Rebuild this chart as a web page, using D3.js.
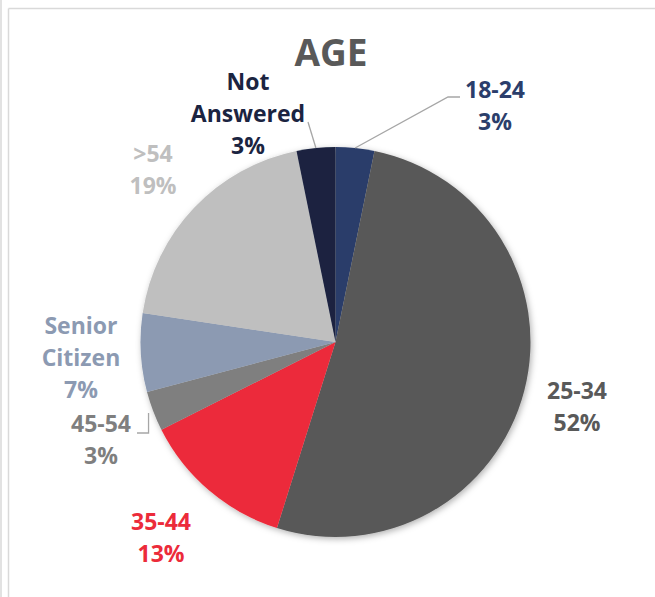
<html>
<head>
<script src="https://d3js.org/d3.v7.min.js"></script>
<style>
  body { margin: 0; background: #fff; }
  svg text { font-family: "Open Sans", "DejaVu Sans", sans-serif; font-weight: bold; }
</style>
</head>
<body>
<div id="chart"></div>
<script>
// data (share of respondents, %)
var categories = ["18-24", "25-34", "35-44", "45-54", "Senior Citizen", ">54", "Not Answered"];
var values = [3.2, 51.6, 12.7, 3.3, 6.5, 19.4, 3.2];
var colors = ["#2b3e6b", "#595959", "#ec2b3a", "#7f7f7f", "#8c9ab2", "#bfbfbf", "#1b2441"];

// label layout: centre x, first baseline, line breaks, leader line kind
var labelLayout = {
  "18-24":          { x: 495, y: 98,  lines: ["18-24"],            leader: "elbow", ex: 460 },
  "25-34":          { x: 577, y: 399, lines: ["25-34"] },
  "35-44":          { x: 161, y: 530, lines: ["35-44"] },
  "45-54":          { x: 101, y: 432, lines: ["45-54"],            leader: "bracket", ex: 137 },
  "Senior Citizen": { x: 81,  y: 334, lines: ["Senior", "Citizen"] },
  ">54":            { x: 153, y: 162, lines: [">54"] },
  "Not Answered":   { x: 248, y: 90,  lines: ["Not", "Answered"],  leader: "straight" }
};

var W = 655, H = 597;
var cx = 335.5, cy = 342, r = 195;
var lineH = 32;

var svg = d3.select("#chart").append("svg")
    .attr("width", W)
    .attr("height", H);

// frame lines
svg.append("line").attr("x1", 1).attr("y1", 0).attr("x2", 1).attr("y2", H)
    .attr("stroke", "#d9d9d9").attr("stroke-width", 1.5);
svg.append("line").attr("x1", 8.5).attr("y1", 8.5).attr("x2", 8.5).attr("y2", H)
    .attr("stroke", "#d9d9d9").attr("stroke-width", 1.5);
svg.append("line").attr("x1", 8.5).attr("y1", 8.5).attr("x2", W).attr("y2", 8.5)
    .attr("stroke", "#d9d9d9").attr("stroke-width", 1.5);

var defs = svg.append("defs");
defs.append("filter")
    .attr("id", "shadow")
    .attr("x", "-20%").attr("y", "-20%").attr("width", "140%").attr("height", "140%")
  .append("feDropShadow")
    .attr("dx", 1.5).attr("dy", 2)
    .attr("stdDeviation", 3)
    .attr("flood-color", "#000")
    .attr("flood-opacity", 0.3);

svg.append("text")
    .attr("x", 331)
    .attr("y", 66)
    .attr("text-anchor", "middle")
    .attr("font-size", 37)
    .attr("fill", "#595959")
    .text("AGE");

var data = categories.map(function(c, i) {
  return { name: c, value: values[i], color: colors[i] };
});

var pie = d3.pie()
    .sort(null)
    .value(function(d) { return d.value; });

var arc = d3.arc().innerRadius(0).outerRadius(r);
var arcs = pie(data);

var g = svg.append("g")
    .attr("transform", "translate(" + cx + "," + cy + ")");

g.append("g")
    .attr("filter", "url(#shadow)")
  .selectAll("path")
  .data(arcs)
  .enter().append("path")
    .attr("d", arc)
    .attr("fill", function(d) { return d.data.color; });

// leader lines
function edgePoint(d, rad) {
  var a = (d.startAngle + d.endAngle) / 2;
  return [cx + rad * Math.sin(a), cy - rad * Math.cos(a)];
}

arcs.forEach(function(d) {
  var lay = labelLayout[d.data.name];
  if (!lay.leader) return;
  var p0, pts;
  if (lay.leader == "elbow") {
    p0 = edgePoint(d, r);
    pts = [p0, [lay.ex - 12, lay.y - 1], [lay.ex, lay.y - 1]];
  } else if (lay.leader == "straight") {
    p0 = edgePoint(d, r);
    pts = [p0, [308, 122]];
  } else {
    p0 = edgePoint(d, r + 5);
    pts = [[p0[0], p0[1]], [p0[0], lay.y + 1], [lay.ex, lay.y + 1]];
  }
  svg.append("path")
      .attr("d", d3.line()(pts))
      .attr("fill", "none")
      .attr("stroke", "#a6a6a6")
      .attr("stroke-width", 1.3);
});

// labels
arcs.forEach(function(d) {
  var lay = labelLayout[d.data.name];
  var lines = lay.lines.concat([Math.round(d.data.value) + "%"]);
  var t = svg.append("text")
      .attr("text-anchor", "middle")
      .attr("font-size", 23)
      .attr("fill", d.data.color);
  lines.forEach(function(s, i) {
    t.append("tspan")
        .attr("x", lay.x)
        .attr("y", lay.y + i * lineH)
        .text(s);
  });
});
</script>
</body>
</html>
